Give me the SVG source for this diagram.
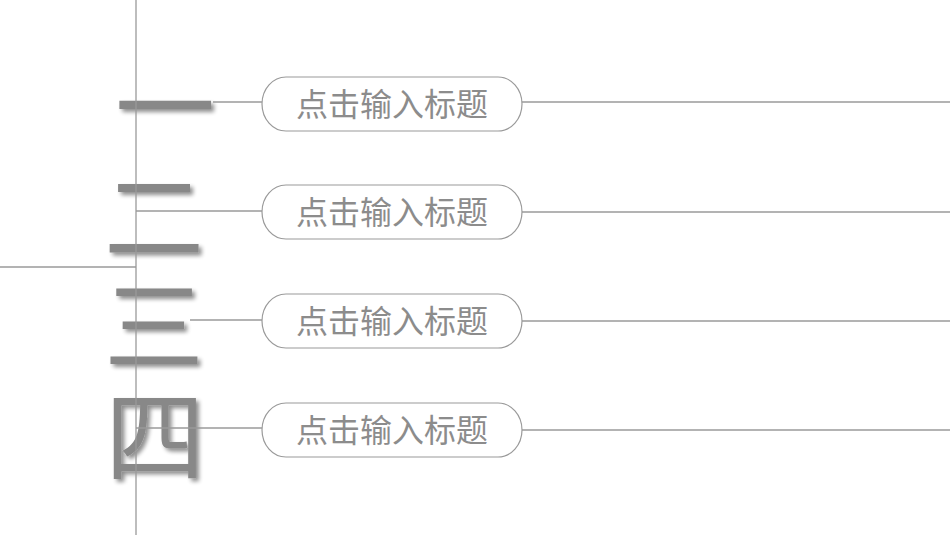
<svg xmlns="http://www.w3.org/2000/svg" width="950" height="535" viewBox="0 0 950 535">
  <defs>
    <filter id="sh" x="-20%" y="-20%" width="140%" height="140%">
      <feGaussianBlur in="SourceAlpha" stdDeviation="2"/>
      <feOffset dx="3" dy="3" result="b"/>
      <feComponentTransfer><feFuncA type="linear" slope="0.45"/></feComponentTransfer>
      <feMerge><feMergeNode/><feMergeNode in="SourceGraphic"/></feMerge>
    </filter>
  </defs>
  <style>
    .big { font-family: "Noto Sans CJK SC", "Noto Sans", sans-serif; font-size: 100px; fill: #888888; text-anchor: middle; }
    .lbl { font-family: "Noto Sans CJK SC", "Noto Sans", sans-serif; font-size: 32px; fill: #8c8c8c; text-anchor: middle; }
    .pill { fill: #ffffff; stroke: #9a9a9a; stroke-width: 1.2; }
    .ln { stroke: #9a9a9a; stroke-width: 1.3; fill: none; }
  </style>
  <rect width="950" height="535" fill="#ffffff"/>
  <g id="numerals" filter="url(#sh)">
    <text class="big" x="165" y="144">一</text>
    <text class="big" x="154" y="254">二</text>
    <text class="big" x="154" y="363">三</text>
    <text class="big" x="155" y="474">四</text>
  </g>
  <g id="connectors">
    <line class="ln" x1="136" y1="0" x2="136" y2="535"/>
    <line class="ln" x1="0" y1="267" x2="136" y2="267"/>
    <line class="ln" x1="213" y1="102" x2="262" y2="102"/>
    <line class="ln" x1="136" y1="211" x2="262" y2="211"/>
    <line class="ln" x1="190" y1="320" x2="262" y2="320"/>
    <line class="ln" x1="136" y1="428" x2="262" y2="428"/>
    <line class="ln" x1="522" y1="102" x2="950" y2="102"/>
    <line class="ln" x1="522" y1="212" x2="950" y2="212"/>
    <line class="ln" x1="522" y1="321" x2="950" y2="321"/>
    <line class="ln" x1="522" y1="430" x2="950" y2="430"/>
  </g>
  <g id="node1">
    <rect class="pill" x="262" y="77" width="260" height="54" rx="24" ry="27"/>
    <text class="lbl" x="392" y="116">点击输入标题</text>
  </g>
  <g id="node2">
    <rect class="pill" x="262" y="185" width="260" height="54" rx="24" ry="27"/>
    <text class="lbl" x="392" y="224">点击输入标题</text>
  </g>
  <g id="node3">
    <rect class="pill" x="262" y="294" width="260" height="54" rx="24" ry="27"/>
    <text class="lbl" x="392" y="333">点击输入标题</text>
  </g>
  <g id="node4">
    <rect class="pill" x="262" y="403" width="260" height="54" rx="24" ry="27"/>
    <text class="lbl" x="392" y="442">点击输入标题</text>
  </g>
</svg>
